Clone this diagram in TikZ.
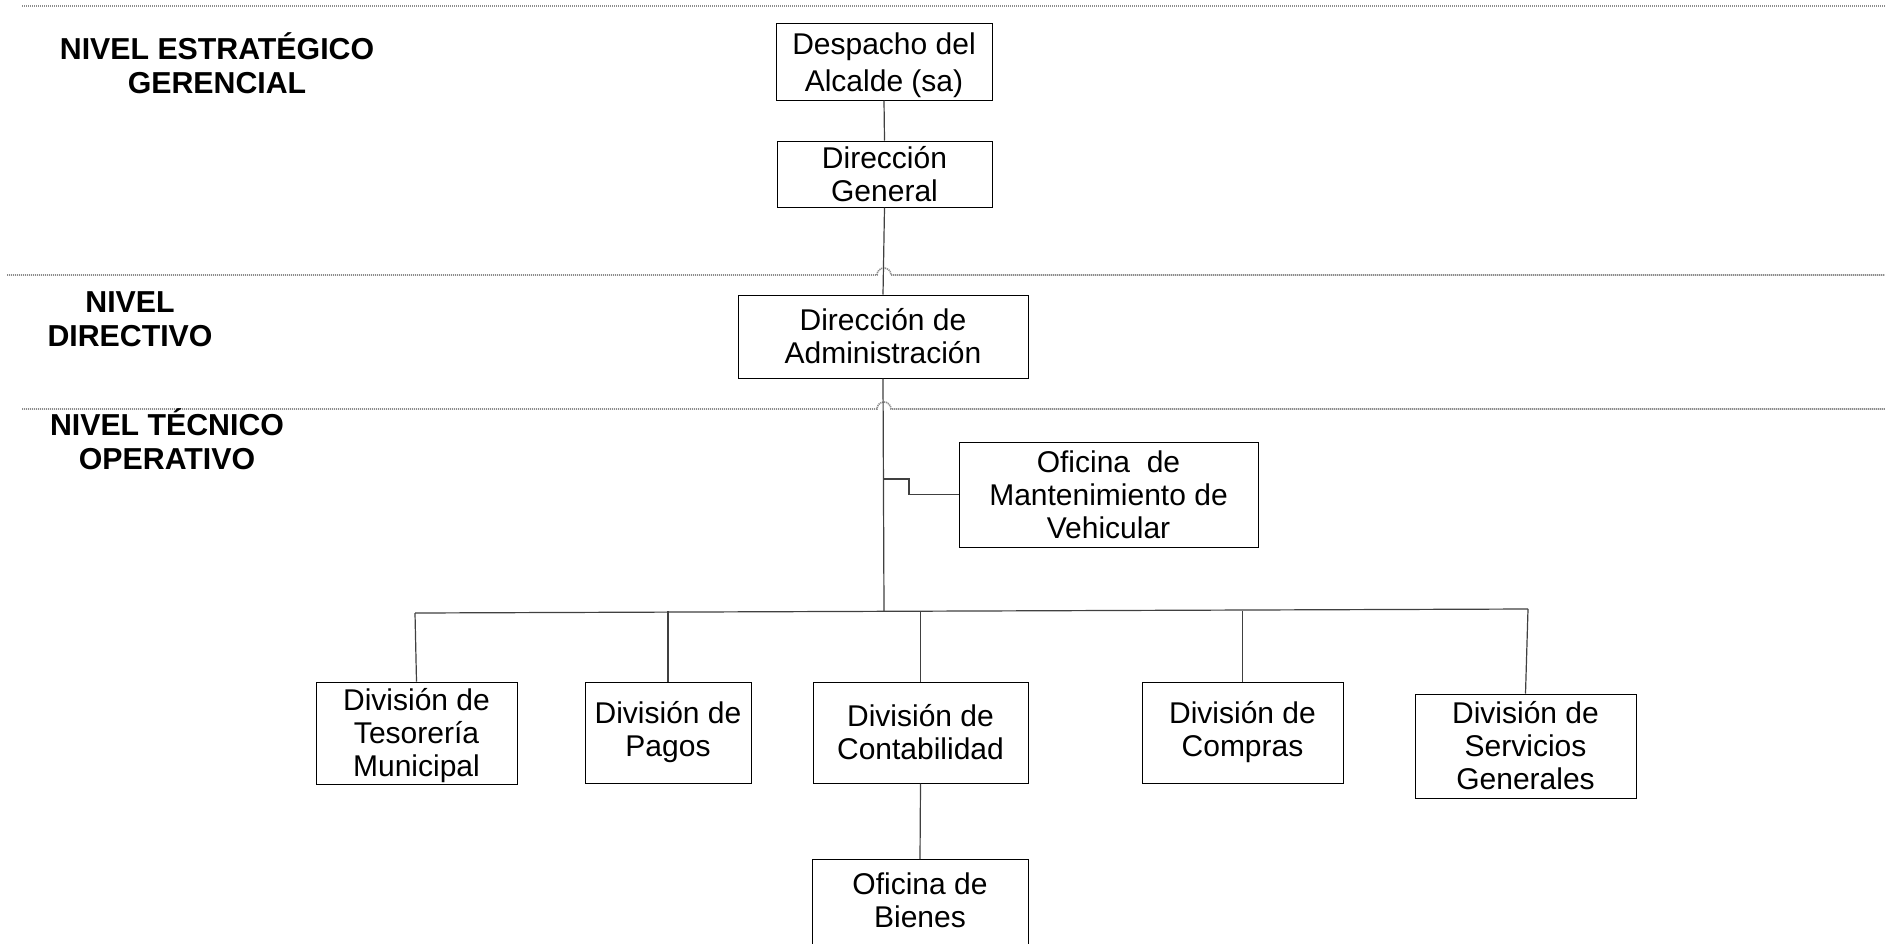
\documentclass[tikz,border=0pt]{standalone}
\usepackage{fontspec}
\setmainfont{Liberation Sans}
\begin{document}
\begin{tikzpicture}[x=1pt,y=-1pt,
  box/.style={draw=black, line width=1pt, fill=white, align=center, inner sep=0pt,
    font=\fontsize{30}{33}\selectfont},
  txt/.style={align=center, inner sep=0pt, font=\fontsize{30}{33}\selectfont},
  conn/.style={draw=black!75, line width=1.2pt},
  lvl/.style={draw=black!45, line width=1.6pt, dash pattern=on 1.2pt off 0.8pt},
  lbl/.style={align=center, inner sep=0pt, font=\bfseries\fontsize{30.3}{34}\selectfont}]
\useasboundingbox (0,0) rectangle (1885,943);
\fill[white] (0,0) rectangle (1885,943);

% level separators
\draw[lvl] (22,6) -- (1885,6);
\draw[lvl] (7,275) -- (877,275) arc[start angle=180, end angle=360, radius=7] -- (1885,275);
\draw[lvl] (22,409) -- (877,409) arc[start angle=180, end angle=360, radius=7] -- (1885,409);

% level labels
\node[lbl] (l1) at (217,63.5) {NIVEL ESTRATÉGICO\\GERENCIAL};
\node[lbl] (l2) at (130,319.5) {NIVEL\\DIRECTIVO};
\node[lbl] (l3) at (167,439) {NIVEL TÉCNICO\\OPERATIVO};

% boxes
\node[box, minimum width=216pt, minimum height=77pt, font=\fontsize{30}{37}\selectfont] (desp) at (884,61.5) {\rule{0pt}{29pt}Despacho del\\Alcalde (sa)};
\node[box, minimum width=215pt, minimum height=66pt] (dirgen) at (884.5,174) {Dirección\\General};
\node[box, minimum width=290pt, minimum height=83pt] (diradm) at (883,336.5) {Dirección de\\Administración};
\node[box, minimum width=299pt, minimum height=105pt] (ofmant) at (1108.5,494.5) {Oficina\ \ de\\Mantenimiento de\\Vehicular};
\node[box, minimum width=201pt, minimum height=102pt] (tes) at (416.5,733) {\rule{0pt}{27pt}División de\\Tesorería\\Municipal};
\node[box, minimum width=166pt, minimum height=101pt] (pagos) at (668,732.5) {División de\\Pagos};
\node[box, minimum width=215pt, minimum height=101pt] (conta) at (920.5,732.5) {División de\\Contabilidad};
\node[box, minimum width=201pt, minimum height=101pt] (compras) at (1242.5,732.5) {División de\\Compras};
\node[box, minimum width=221pt, minimum height=104pt] (serv) at (1525.5,746) {División de\\Servicios\\Generales};
\node[box, minimum width=216pt, minimum height=110pt, anchor=north] (bienes) at (920,859) {};
\node[txt] (bienesT) at (920,900) {Oficina de\\Bienes};

% junctions
\coordinate (busL) at (415,613);
\coordinate (busR) at (1528,609);
\coordinate (busM) at (884,611);
\coordinate (j1) at (884,479);
\coordinate (j2) at (909,494.5);

% connectors
\draw[conn] (desp.south) -- (dirgen.north);
\draw[conn] (dirgen.south) -- (diradm.north);
\draw[conn] (diradm.south) -- (busM);
\draw[conn] (busL) -- (busR);
\draw[conn] (j1) -| (j2) -- (ofmant.west);
\draw[conn] (busL) -- (tes.north);
\draw[conn] (pagos.north |- busM) -- (pagos.north);
\draw[conn] (conta.north |- busM) -- (conta.north);
\draw[conn] (compras.north |- busM) -- (compras.north);
\draw[conn] (busR) -- (serv.north);
\draw[conn] (conta.south) -- (bienes.north);
\end{tikzpicture}
\end{document}
